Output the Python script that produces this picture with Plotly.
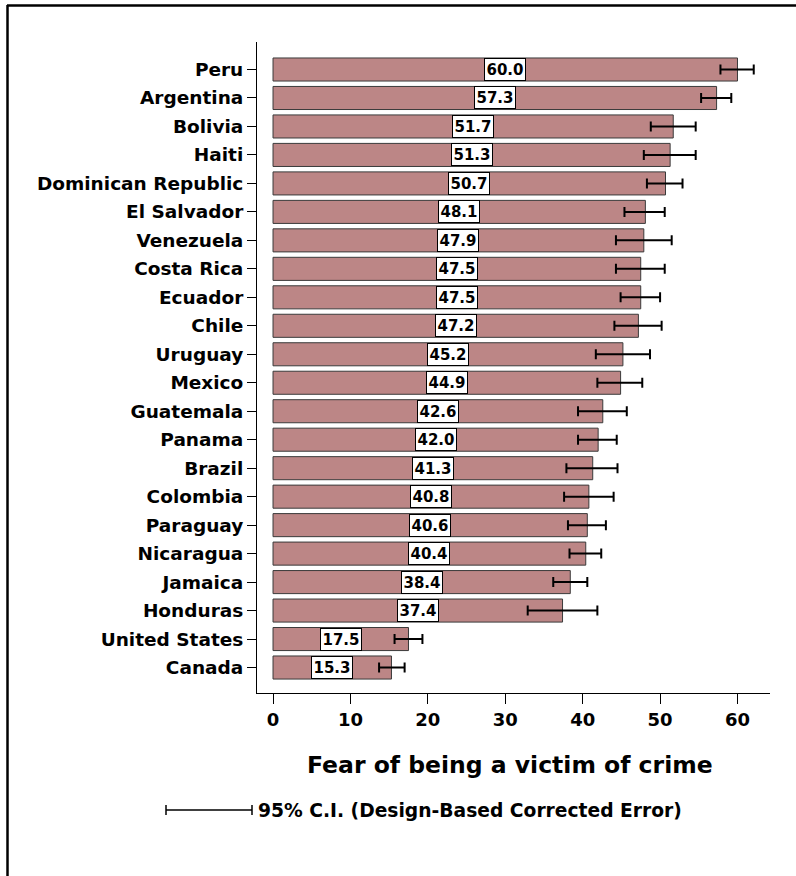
import plotly.graph_objects as go

# Mean fear-of-crime scores by country, top to bottom
countries = [
    "Peru", "Argentina", "Bolivia", "Haiti", "Dominican Republic", "El Salvador",
    "Venezuela", "Costa Rica", "Ecuador", "Chile", "Uruguay", "Mexico",
    "Guatemala", "Panama", "Brazil", "Colombia", "Paraguay", "Nicaragua",
    "Jamaica", "Honduras", "United States", "Canada",
]
scores = [
    60.0, 57.3, 51.7, 51.3, 50.7, 48.1, 47.9, 47.5, 47.5, 47.2, 45.2, 44.9,
    42.6, 42.0, 41.3, 40.8, 40.6, 40.4, 38.4, 37.4, 17.5, 15.3,
]
# 95% confidence interval bounds
ci_low = [
    57.8, 55.3, 48.8, 47.9, 48.3, 45.4, 44.3, 44.3, 44.9, 44.1, 41.7, 41.9,
    39.4, 39.4, 37.9, 37.6, 38.1, 38.3, 36.2, 32.9, 15.7, 13.7,
]
ci_high = [
    62.1, 59.2, 54.6, 54.6, 52.9, 50.6, 51.5, 50.6, 50.0, 50.2, 48.7, 47.7,
    45.7, 44.4, 44.5, 44.0, 43.0, 42.4, 40.6, 41.9, 19.3, 17.0,
]
x_ticks = [0, 10, 20, 30, 40, 50, 60]

FONT = "DejaVu Sans"
W, H = 796, 876
L, R, T, B = 257, 770, 42, 693


def px(x):
    return (x - L) / (R - L)


def py(y):
    return (B - y) / (B - T)


fig = go.Figure()
fig.add_trace(go.Bar(
    x=scores,
    y=countries,
    orientation="h",
    width=0.81,
    marker=dict(color="#bc8686", line=dict(color="#3a3a3a", width=1)),
    error_x=dict(
        type="data",
        symmetric=False,
        array=[h - v for h, v in zip(ci_high, scores)],
        arrayminus=[v - l for v, l in zip(scores, ci_low)],
        color="black",
        thickness=2,
        width=5,
    ),
    hoverinfo="skip",
))

annotations = []
for c, v in zip(countries, scores):
    annotations.append(dict(
        x=v / 2, y=c, xref="x", yref="y",
        text=f"<b>{v:.1f}</b>", showarrow=False,
        font=dict(family=FONT, size=15, color="black"),
        bgcolor="white", bordercolor="black", borderwidth=1, borderpad=1.5,
    ))

annotations.append(dict(
    x=px(510), y=py(765), xref="paper", yref="paper",
    text="<b>Fear of being a victim of crime</b>", showarrow=False,
    font=dict(family=FONT, size=23.5, color="black"),
    xanchor="center", yanchor="middle",
))
annotations.append(dict(
    x=px(256), y=py(810), xref="paper", yref="paper",
    text="<b>95% C.I. (Design-Based Corrected Error)</b>", showarrow=False,
    font=dict(family=FONT, size=18.7, color="black"),
    xanchor="left", yanchor="middle",
))

shapes = [
    # outer frame (top and left edges)
    dict(type="line", xref="paper", yref="paper",
         x0=px(7), x1=px(W + 5), y0=py(5.5), y1=py(5.5),
         line=dict(color="black", width=2.5)),
    dict(type="line", xref="paper", yref="paper",
         x0=px(7.5), x1=px(7.5), y0=py(5), y1=py(H + 5),
         line=dict(color="black", width=2.5)),
    # error-bar key
    dict(type="line", xref="paper", yref="paper",
         x0=px(166), x1=px(252), y0=py(810), y1=py(810),
         line=dict(color="black", width=1.5)),
    dict(type="line", xref="paper", yref="paper",
         x0=px(166), x1=px(166), y0=py(805), y1=py(815),
         line=dict(color="black", width=1.5)),
    dict(type="line", xref="paper", yref="paper",
         x0=px(252), x1=px(252), y0=py(805), y1=py(815),
         line=dict(color="black", width=1.5)),
]

fig.update_layout(
    width=W, height=H,
    margin=dict(l=L, r=W - R, t=T, b=H - B, pad=0),
    paper_bgcolor="white", plot_bgcolor="white",
    showlegend=False,
    bargap=0.19,
    annotations=annotations,
    shapes=shapes,
    font=dict(family=FONT, color="black"),
)
fig.update_xaxes(
    range=[-2.07, 64.2],
    tickvals=x_ticks,
    ticktext=[f"<b>{t}</b>" for t in x_ticks],
    tickfont=dict(family=FONT, size=18, color="black"),
    ticks="outside", ticklen=10, tickwidth=1, tickcolor="black",
    showline=True, linecolor="black", linewidth=1,
    showgrid=False, zeroline=False,
)
fig.update_yaxes(
    type="category",
    categoryorder="array", categoryarray=countries,
    range=[21.895, -0.966],
    tickvals=countries,
    ticktext=[f"<b>{c}</b>" for c in countries],
    tickfont=dict(family=FONT, size=18.5, color="black"),
    ticks="outside", ticklen=9, tickwidth=1, tickcolor="black",
    showline=True, linecolor="black", linewidth=1,
    showgrid=False, zeroline=False,
)

fig.write_html("out.html")
